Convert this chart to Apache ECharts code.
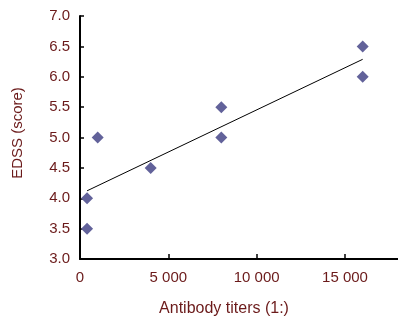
<!DOCTYPE html>
<html>
<head>
<meta charset="utf-8">
<script src="https://cdn.jsdelivr.net/npm/echarts@6/dist/echarts.min.js"></script>
<style>
html, body { margin: 0; padding: 0; background: #fff; }
#chart { width: 398px; height: 322px; }
</style>
</head>
<body>
<div id="chart"></div>
<script>
// antibody titers (1:) and EDSS scores
var titers = [400, 400, 1000, 4000, 8000, 8000, 16000, 16000];
var edss = [3.5, 4.0, 5.0, 4.5, 5.0, 5.5, 6.0, 6.5];
var xTicks = [0, 5000, 10000, 15000];
var yTicks = [3.0, 3.5, 4.0, 4.5, 5.0, 5.5, 6.0, 6.5, 7.0];

var points = titers.map(function (t, i) { return [t, edss[i]]; });

// least squares trend line
var n = titers.length, mx = 0, my = 0;
for (var i = 0; i < n; i++) { mx += titers[i]; my += edss[i]; }
mx /= n; my /= n;
var sxy = 0, sxx = 0;
for (var i = 0; i < n; i++) {
	sxy += (titers[i] - mx) * (edss[i] - my);
	sxx += (titers[i] - mx) * (titers[i] - mx);
}
var slope = sxy / sxx, icept = my - slope * mx;
var xMin = Math.min.apply(null, titers), xMax = Math.max.apply(null, titers);
var trend = [[xMin, icept + slope * xMin], [xMax, icept + slope * xMax]];

var textColor = '#6b1a1a';
var font = 'Liberation Sans, Arial, sans-serif';

var chart = echarts.init(document.getElementById('chart'));
chart.setOption({
	animation: false,
	grid: { left: 80, right: -2, top: 16, bottom: 59 },
	xAxis: {
		type: 'value',
		min: 0, max: 18000, interval: 5000,
		name: 'Antibody titers (1:)',
		nameLocation: 'middle',
		nameGap: 42,
		nameTextStyle: { color: textColor, fontSize: 16, fontFamily: font, padding: [0, 30, 0, 0] },
		axisLine: { lineStyle: { color: '#000', width: 2 } },
		axisTick: { inside: true, length: 5, lineStyle: { color: '#000', width: 1.5 } },
		axisLabel: {
			color: textColor, fontSize: 15, fontFamily: font, margin: 11,
			showMaxLabel: false,
			formatter: function (v) {
				return xTicks.indexOf(v) < 0 ? '' : String(v).replace(/\B(?=(\d{3})+(?!\d))/g, ' ');
			}
		},
		splitLine: { show: false }
	},
	yAxis: {
		type: 'value',
		min: 3, max: 7, interval: 0.5,
		name: 'EDSS (score)',
		nameLocation: 'middle',
		nameGap: 55,
		nameTextStyle: { color: textColor, fontSize: 15, fontFamily: font, padding: [0, 0, 0, 9] },
		axisLine: { show: true, lineStyle: { color: '#000', width: 2 } },
		axisTick: { show: true, inside: true, length: 4, lineStyle: { color: '#000', width: 1.5 } },
		axisLabel: {
			color: textColor, fontSize: 15, fontFamily: font, margin: 10,
			formatter: function (v) { return v.toFixed(1); }
		},
		splitLine: { show: false }
	},
	series: [{
		type: 'line',
		data: trend,
		symbol: 'none',
		lineStyle: { color: '#000', width: 1 },
		z: 1
	}, {
		type: 'scatter',
		data: points,
		symbol: 'diamond',
		symbolSize: 12,
		itemStyle: { color: '#62629a', opacity: 1 },
		z: 2
	}]
});
</script>
</body>
</html>
